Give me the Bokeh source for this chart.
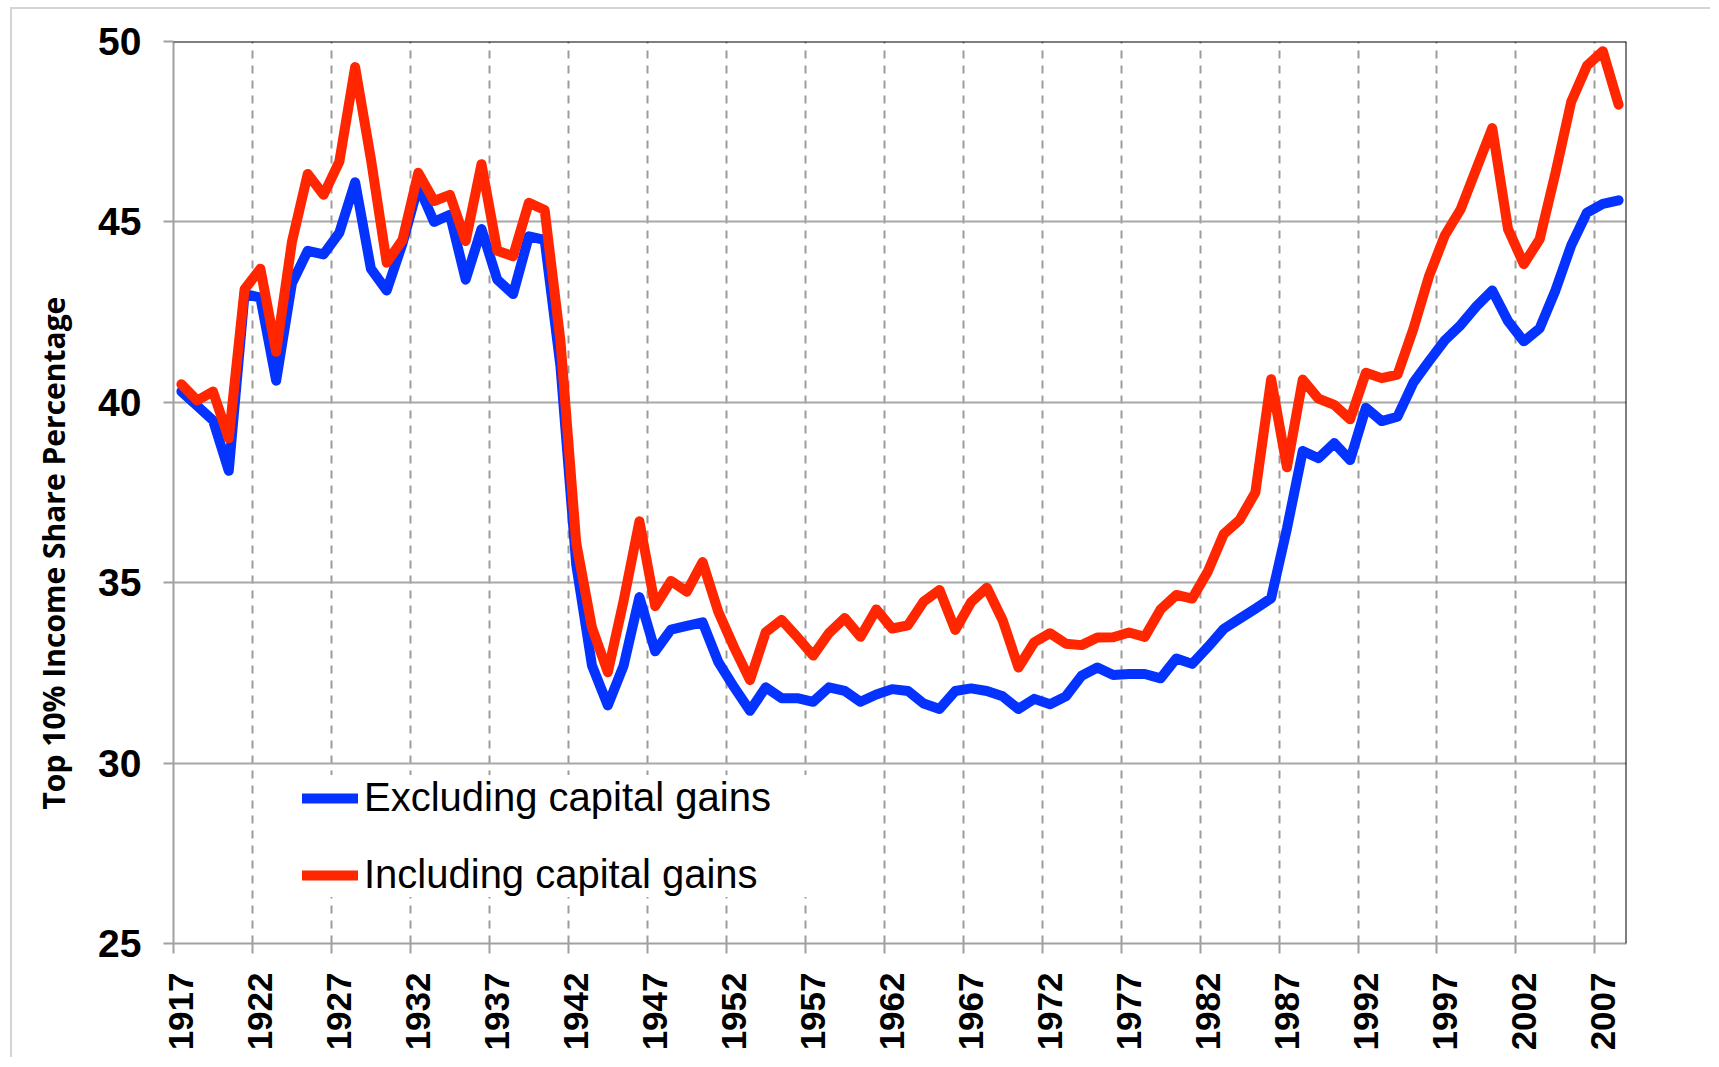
import math
from bokeh.plotting import figure
from bokeh.models import Range1d, FixedTicker, Legend, LegendItem, Span, Title
from bokeh.embed import file_html
from bokeh.resources import INLINE

# ---------------- data ----------------
years = list(range(1917, 2009))

excluding_cg = [
    40.3, 39.9, 39.5, 38.1, 43.0, 42.9, 40.6, 43.3, 44.2, 44.1,   # 1917-1926
    44.7, 46.1, 43.7, 43.1, 44.4, 46.0, 45.0, 45.2, 43.4, 44.8,   # 1927-1936
    43.4, 43.0, 44.6, 44.5, 41.0, 35.5, 32.7, 31.6, 32.7, 34.6,   # 1937-1946
    33.1, 33.7, 33.8, 33.9, 32.8, 32.1, 31.45, 32.1, 31.8, 31.8,  # 1947-1956
    31.7, 32.1, 32.0, 31.7, 31.9, 32.05, 32.0, 31.65, 31.5, 32.0, # 1957-1966
    32.07, 32.0, 31.85, 31.5, 31.78, 31.63, 31.85, 32.42, 32.65, 32.44,  # 1967-1976
    32.47, 32.47, 32.35, 32.9, 32.75, 33.22, 33.72, 34.0, 34.28, 34.57,  # 1977-1986
    36.5, 38.65, 38.45, 38.87, 38.4, 39.85, 39.48, 39.6, 40.54, 41.14,   # 1987-1996
    41.72, 42.14, 42.66, 43.1, 42.25, 41.69, 42.05, 43.1, 44.35, 45.26,  # 1997-2006
    45.5, 45.6,                                                          # 2007-2008
]

including_cg = [
    40.5, 40.05, 40.3, 39.0, 43.13, 43.7, 41.4, 44.45, 46.33, 45.75,     # 1917-1926
    46.67, 49.29, 46.74, 43.87, 44.5, 46.36, 45.58, 45.75, 44.47, 46.6,  # 1927-1936
    44.2, 44.05, 45.53, 45.33, 41.7, 36.1, 33.75, 32.52, 34.5, 36.7,     # 1937-1946
    34.35, 35.05, 34.75, 35.57, 34.19, 33.2, 32.3, 33.63, 33.97, 33.49,  # 1947-1956
    32.98, 33.6, 34.02, 33.5, 34.26, 33.73, 33.82, 34.48, 34.8, 33.69,   # 1957-1966
    34.46, 34.86, 33.96, 32.65, 33.35, 33.6, 33.31, 33.27, 33.48, 33.49, # 1967-1976
    33.62, 33.5, 34.26, 34.66, 34.56, 35.32, 36.35, 36.74, 37.5, 40.64,  # 1977-1986
    38.2, 40.63, 40.1, 39.93, 39.53, 40.82, 40.67, 40.77, 42.03, 43.5,   # 1987-1996
    44.63, 45.35, 46.48, 47.6, 44.8, 43.83, 44.52, 46.35, 48.33, 49.33,  # 1997-2006
    49.73, 48.25,                                                        # 2007-2008
]

x_tick_years = list(range(1917, 2008, 5))
x_tick_labels = [str(y) for y in x_tick_years]
y_ticks = [25, 30, 35, 40, 45, 50]
y_tick_labels = ["25", "30", "35", "40", "45", "50"]

series_names = ["Excluding capital gains", "Including capital gains"]
series_colors = ["#0433FF", "#FF2600"]
y_title = "Top 10% Income Share Percentage"

# ---------------- figure ----------------
x_start, x_end = years[0] - 0.5, years[-1] + 0.5
y_start, y_end = 25, 50

p = figure(
    width=1700, height=1050,
    output_backend="svg", toolbar_location=None,
    x_range=Range1d(x_start, x_end), y_range=Range1d(y_start, y_end),
    min_border_left=161, min_border_right=86, min_border_top=32, min_border_bottom=116,
    background_fill_color="white", border_fill_color="white",
)
p.outline_line_color = None
p.styles = {
    "border-left": "2px solid #d4d4d4",
    "border-top": "2px solid #d4d4d4",
    "margin-left": "10px",
    "margin-top": "7px",
}

# x axis: labels on categories, ticks/grid at category boundaries
xticker = FixedTicker(ticks=x_tick_years, minor_ticks=[y - 0.5 for y in x_tick_years])
xa = p.xaxis[0]
xa.ticker = xticker
xa.major_label_overrides = {y: l for y, l in zip(x_tick_years, x_tick_labels)}
xa.major_label_orientation = math.pi / 2
xa.major_tick_line_color = None
xa.major_tick_out = 0
xa.major_tick_in = 0
xa.minor_tick_out = 10
xa.minor_tick_in = 0
xa.minor_tick_line_color = "#a0a0a0"
xa.minor_tick_line_width = 2
xa.axis_line_color = "#a0a0a0"
xa.axis_line_width = 2
xa.major_label_standoff = 19
xa.major_label_text_font = "Liberation Sans"
xa.major_label_text_font_size = "35px"
xa.major_label_text_font_style = "bold"
xa.major_label_text_color = "black"

p.xgrid.ticker = xticker
p.xgrid.grid_line_color = None
p.xgrid.minor_grid_line_color = "#9c9c9c"
p.xgrid.minor_grid_line_width = 2
p.xgrid.minor_grid_line_dash = "8 7"

# y axis
yticker = FixedTicker(ticks=y_ticks, minor_ticks=[])
ya = p.yaxis[0]
ya.ticker = yticker
ya.major_label_overrides = {v: l for v, l in zip(y_ticks, y_tick_labels)}
ya.major_tick_out = 10
ya.major_tick_in = 0
ya.major_tick_line_color = "#a0a0a0"
ya.major_tick_line_width = 2
ya.minor_tick_line_color = None
ya.axis_line_color = "#a0a0a0"
ya.axis_line_width = 2
ya.major_label_standoff = 22
ya.major_label_text_font = "Liberation Sans"
ya.major_label_text_font_size = "39px"
ya.major_label_text_font_style = "bold"
ya.major_label_text_color = "black"

p.ygrid.ticker = yticker
p.ygrid.grid_line_color = "#a8a8a8"
p.ygrid.grid_line_width = 2

# frame top / right in black
p.add_layout(Span(location=y_end, dimension="width", line_color="black", line_width=2))
p.add_layout(Span(location=x_end, dimension="height", line_color="black", line_width=2))

# series
r_ex = p.line(years, excluding_cg, line_color=series_colors[0], line_width=10,
              line_join="round", line_cap="round")
r_in = p.line(years, including_cg, line_color=series_colors[1], line_width=10,
              line_join="round", line_cap="round")

legend = Legend(
    items=[LegendItem(label=series_names[0], renderers=[r_ex]),
           LegendItem(label=series_names[1], renderers=[r_in])],
    location=(129, 46),
    orientation="vertical",
    background_fill_color="white", background_fill_alpha=1.0,
    border_line_color=None,
    padding=20, margin=0, spacing=32,
    glyph_width=56, glyph_height=44, label_height=44, label_width=443,
    label_standoff=6,
    label_text_font="Liberation Sans", label_text_font_size="40px",
    label_text_color="black",
)
p.add_layout(legend)

# y axis title in the left panel, placed below the frame centre like the original
p.add_layout(Title(text=y_title, align="left", vertical_align="top", offset=134, standoff=39,
                   text_font="Open Sans", text_font_style="bold",
                   text_font_size="30px", text_color="black"), "left")

open("out.html", "w").write(file_html(p, INLINE))
